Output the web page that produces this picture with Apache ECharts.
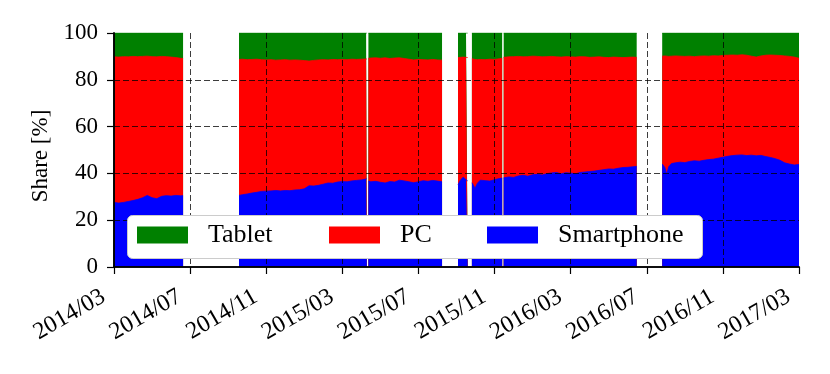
<!DOCTYPE html>
<html>
<head>
<meta charset="utf-8">
<script src="https://cdn.jsdelivr.net/npm/echarts@6.0.0/dist/echarts.min.js"></script>
<style>
  html, body { margin: 0; padding: 0; background: #fff; }
  #chart { width: 830px; height: 374px; }
</style>
</head>
<body>
<div id="chart"></div>
<script>
// x = months since 2014/03, null rows are the holes in the data
var months = [
  0, 0.25, 0.5, 0.75, 1.0, 1.25, 1.5, 1.75, 2.0, 2.25, 2.5, 2.75, 3.0, 3.25, 3.5, 3.63,
  5.0,
  6.57, 6.75, 7.0, 7.25, 7.5, 7.75, 8.0, 8.25, 8.5, 8.75, 9.0, 9.25, 9.5, 9.75, 10.0, 10.25,
  10.5, 10.75, 11.0, 11.25, 11.5, 11.75, 12.0, 12.25, 12.5, 12.75, 13.0, 13.25, 13.29,
  13.33,
  13.37, 13.5, 13.75, 14.0, 14.25, 14.5, 14.75, 15.0, 15.25, 15.5, 15.75, 16.0, 16.25, 16.5,
  16.75, 17.0, 17.24,
  17.6,
  18.08, 18.2, 18.35, 18.5, 18.59,
  18.7,
  18.81, 18.9, 18.97, 19.1, 19.25, 19.5, 19.75, 20.0, 20.25, 20.40,
  20.44,
  20.48, 20.75, 21.0, 21.25, 21.5, 21.75, 22.0, 22.25, 22.5, 22.75, 23.0, 23.25, 23.5, 23.75,
  24.0, 24.25, 24.5, 24.75, 25.0, 25.25, 25.5, 25.75, 26.0, 26.25, 26.5, 26.75, 27.0, 27.25, 27.47,
  28.0,
  28.81, 28.95, 29.05, 29.15, 29.3, 29.5, 29.75, 30.0, 30.25, 30.5, 30.75, 31.0, 31.25, 31.5,
  31.75, 32.0, 32.25, 32.5, 32.75, 33.0, 33.25, 33.5, 33.75, 34.0, 34.25, 34.5, 34.75, 35.0,
  35.25, 35.5, 35.75, 36.0
];
var smartphone = [
  27.6, 27.3, 27.6, 28.0, 28.4, 28.9, 29.6, 30.6, 29.6, 29.2, 30.2, 30.5, 30.3, 30.6, 30.4, 30.5,
  null,
  30.6, 30.9, 31.2, 31.6, 31.9, 32.3, 32.4, 32.5, 32.7, 32.5, 32.7, 32.6, 32.9, 33.0, 33.4, 34.7,
  34.6, 34.9, 35.4, 35.9, 35.8, 36.3, 36.5, 36.4, 36.8, 37.0, 37.2, 37.6, 37.8,
  null,
  36.7, 36.4, 36.6, 36.2, 35.9, 36.5, 36.3, 37.1, 36.8, 36.4, 36.0, 36.4, 36.9, 36.6,
  37.0, 36.7, 36.4,
  null,
  35.2, 37.0, 38.4, 37.3, 36.8,
  null,
  36.0, 34.8, 33.6, 35.8, 37.1, 36.9, 36.7, 37.3, 37.8, 38.0,
  null,
  38.1, 38.5, 38.3, 38.9, 39.2, 38.8, 39.4, 39.6, 39.3, 39.9, 40.2, 40.4, 39.8, 40.3,
  40.1, 39.8, 40.4, 40.6, 40.8, 41.0, 41.3, 41.6, 41.9, 41.8, 42.2, 42.5, 42.6, 42.8, 43.0,
  null,
  44.0, 42.5, 39.6, 42.8, 44.2, 44.5, 44.8, 44.6, 45.1, 45.4, 45.2, 45.6, 45.9, 46.1,
  46.5, 46.9, 47.3, 47.6, 47.8, 47.9, 47.6, 47.8, 47.5, 47.7, 47.2, 46.8, 46.3, 45.6,
  44.5, 44.0, 43.6, 43.8
];
var pc = [
  62.2, 62.4, 62.3, 61.8, 61.6, 61.0, 60.4, 59.5, 60.3, 60.6, 59.8, 59.4, 59.4, 58.9, 58.8, 58.6,
  null,
  58.1, 57.9, 57.4, 57.1, 56.9, 56.3, 56.1, 56.1, 55.7, 56.0, 55.9, 55.8, 55.6, 55.4, 54.8, 53.3,
  53.7, 53.6, 53.2, 52.6, 52.9, 52.3, 52.2, 52.2, 52.0, 51.7, 51.6, 51.3, 51.1,
  null,
  52.5, 52.9, 52.8, 53.0, 53.5, 52.6, 53.0, 52.3, 52.3, 52.4, 52.5, 52.3, 51.7, 51.9,
  51.7, 51.8, 52.0,
  null,
  54.3, 52.6, 51.3, 52.3, 52.7,
  null,
  53.0, 54.0, 55.1, 52.8, 51.6, 51.7, 52.1, 51.4, 51.2, 51.2,
  null,
  51.5, 51.3, 51.6, 51.1, 50.6, 51.1, 50.7, 50.4, 50.5, 50.0, 49.8, 49.4, 49.9, 49.6,
  49.7, 49.9, 49.5, 49.2, 48.8, 48.7, 48.5, 48.0, 47.6, 47.9, 47.4, 47.0, 47.0, 46.9, 46.6,
  null,
  46.1, 47.7, 50.5, 47.2, 45.9, 45.7, 45.3, 45.4, 45.0, 44.5, 44.9, 44.6, 44.2, 44.2,
  43.7, 43.5, 43.2, 43.0, 42.7, 42.8, 42.9, 42.3, 42.2, 42.5, 43.3, 43.8, 44.2, 44.8,
  45.7, 46.0, 46.1, 45.4
];
var tablet = [
  10.2, 10.3, 10.1, 10.2, 10.0, 10.1, 10.0, 9.9, 10.1, 10.2, 10.0, 10.1, 10.3, 10.5, 10.8, 10.9,
  null,
  11.3, 11.2, 11.4, 11.3, 11.2, 11.4, 11.5, 11.4, 11.6, 11.5, 11.4, 11.6, 11.5, 11.6, 11.8, 12.0,
  11.7, 11.5, 11.4, 11.5, 11.3, 11.4, 11.3, 11.4, 11.2, 11.3, 11.2, 11.1, 11.1,
  null,
  10.8, 10.7, 10.6, 10.8, 10.6, 10.9, 10.7, 10.6, 10.9, 11.2, 11.5, 11.3, 11.4, 11.5,
  11.3, 11.5, 11.6,
  null,
  10.5, 10.4, 10.3, 10.4, 10.5,
  null,
  11.0, 11.2, 11.3, 11.4, 11.3, 11.4, 11.2, 11.3, 11.0, 10.8,
  null,
  10.4, 10.2, 10.1, 10.0, 10.2, 10.1, 9.9, 10.0, 10.2, 10.1, 10.0, 10.2, 10.3, 10.1,
  10.2, 10.3, 10.1, 10.2, 10.4, 10.3, 10.2, 10.4, 10.5, 10.3, 10.4, 10.5, 10.4, 10.3, 10.4,
  null,
  9.9, 9.8, 9.9, 10.0, 9.9, 9.8, 9.9, 10.0, 9.9, 10.1, 9.9, 9.8, 9.9, 9.7,
  9.8, 9.6, 9.5, 9.4, 9.5, 9.3, 9.5, 9.9, 10.3, 9.8, 9.5, 9.4, 9.5, 9.6,
  9.8, 10.0, 10.3, 10.8
];
var tickLabels = ['2014/03', '2014/07', '2014/11', '2015/03', '2015/07',
                  '2015/11', '2016/03', '2016/07', '2016/11', '2017/03'];

var FONT = 'Liberation Serif';

// cumulative shares: each band is drawn as an opaque area over the one above it
function cumulative(lists) {
  return months.map(function (m, i) {
    var sum = 0;
    for (var k = 0; k < lists.length; k++) {
      if (lists[k][i] == null) return [m, null];
      sum += lists[k][i];
    }
    return [m, sum];
  });
}

function areaSeries(name, color, data) {
  return {
    name: name,
    type: 'line',
    data: data,
    connectNulls: false,
    showSymbol: false,
    symbol: 'none',
    color: color,
    itemStyle: { color: color },
    lineStyle: { width: 0.8, color: color },
    areaStyle: { color: color, opacity: 1 },
    emphasis: { disabled: true },
    silent: true,
    z: 2
  };
}

function legendFor(name, left) {
  return {
    data: [name],
    left: left,
    top: 222,
    padding: 0,
    icon: 'rect',
    itemWidth: 51,
    itemHeight: 17,
    selectedMode: false,
    z: 110,
    textStyle: { fontFamily: FONT, fontSize: 26, color: '#000', padding: [0, 0, 0, 15] }
  };
}

var gridDash = { color: '#000', width: 0.9, type: [6, 3], opacity: 0.85 };

var myChart = echarts.init(document.getElementById('chart'));
var option = {
  animation: false,
  grid: { left: 114, right: 31, top: 33, bottom: 107 },
  legend: [
    legendFor('Tablet', 137),
    legendFor('PC', 329),
    legendFor('Smartphone', 487)
  ],
  graphic: [{
    type: 'rect',
    left: 127,
    top: 215,
    z: 100,
    shape: { width: 575, height: 43, r: 5 },
    style: { fill: '#fff', stroke: '#cccccc', lineWidth: 1 }
  }],
  xAxis: [{
    type: 'value',
    min: 0,
    max: 36,
    interval: 4,
    z: 10,
    axisLine: { lineStyle: { color: '#000', width: 1.6 } },
    axisTick: { length: 7, lineStyle: { color: '#000', width: 1.2 } },
    splitLine: { show: true, showMinLine: false, showMaxLine: false, lineStyle: gridDash },
    axisLabel: {
      rotate: 30,
      margin: 22,
      padding: [0, 12, 0, 0],
      fontFamily: FONT,
      fontSize: 24,
      color: '#000',
      showMinLabel: true,
      showMaxLabel: true,
      formatter: function (v) { return tickLabels[Math.round(v / 4)]; }
    }
  }, {
    type: 'value',
    position: 'top',
    min: 0,
    max: 36,
    z: 10,
    axisLine: { show: true, lineStyle: { color: '#000', width: 1.6 } },
    axisTick: { show: false },
    axisLabel: { show: false },
    splitLine: { show: false }
  }],
  yAxis: [{
    type: 'value',
    min: 0,
    max: 100,
    interval: 20,
    z: 10,
    name: 'Share [%]',
    nameLocation: 'middle',
    nameGap: 61,
    nameTextStyle: { fontFamily: FONT, fontSize: 23, color: '#000', padding: [0, 12, 0, 0] },
    axisLine: { show: true, lineStyle: { color: '#000', width: 1.6 } },
    axisTick: { show: true, length: 7, lineStyle: { color: '#000', width: 1.2 } },
    splitLine: { show: true, showMinLine: false, showMaxLine: false, lineStyle: gridDash },
    axisLabel: { margin: 16, fontFamily: FONT, fontSize: 23, color: '#000' }
  }, {
    type: 'value',
    position: 'right',
    min: 0,
    max: 100,
    z: 10,
    axisLine: { show: true, lineStyle: { color: '#000', width: 1.6 } },
    axisTick: { show: false },
    axisLabel: { show: false },
    splitLine: { show: false }
  }],
  series: [
    areaSeries('Tablet', '#008000', cumulative([smartphone, pc, tablet])),
    areaSeries('PC', '#ff0000', cumulative([smartphone, pc])),
    areaSeries('Smartphone', '#0000ff', cumulative([smartphone]))
  ]
};
myChart.setOption(option);
</script>
</body>
</html>
